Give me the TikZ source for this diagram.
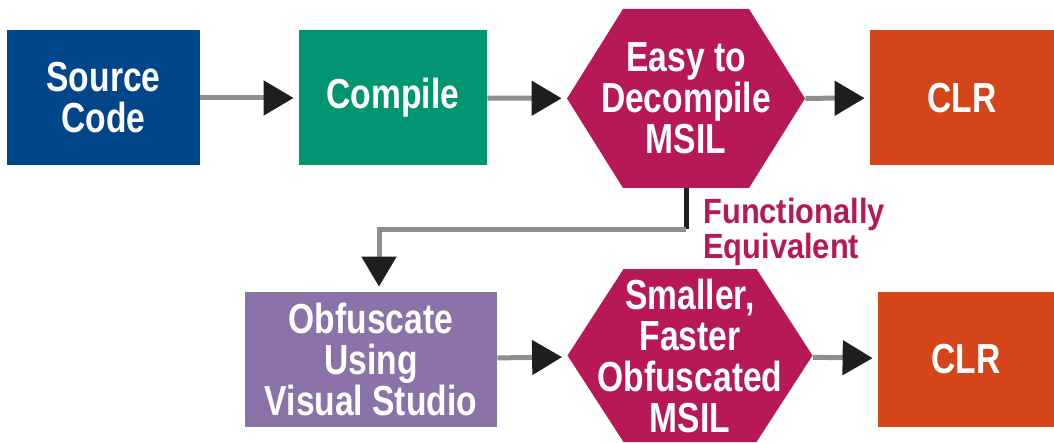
\documentclass[tikz,border=0pt]{standalone}
\usepackage{fontspec}
\usepackage{tikz}
\usetikzlibrary{arrows.meta}

\newfontfamily\boxfont{Liberation Sans}[FakeStretch=0.8]
\newfontfamily\notefont{Liberation Sans}[FakeStretch=0.88]

\definecolor{srcblue}{HTML}{01458A}
\definecolor{compgreen}{HTML}{019572}
\definecolor{msilred}{HTML}{B71858}
\definecolor{clrorange}{HTML}{D4451A}
\definecolor{obfpurple}{HTML}{8B72A8}
\definecolor{linegray}{HTML}{8E8E8E}
\definecolor{tipblack}{HTML}{1E1E1E}

\tikzset{
  block/.style={
    rectangle,
    fill=#1,
    text=white,
    align=center,
    inner sep=0pt,
    minimum height=67.5pt,
    font=\boxfont\bfseries\fontsize{21}{20.5}\selectfont},
  hexblock/.style={
    rectangle,
    text=white,
    align=center,
    inner sep=0pt,
    path picture={
      \fill[msilred] (path picture bounding box.west)
        -- ([xshift=28pt]path picture bounding box.north west)
        -- ([xshift=-28pt]path picture bounding box.north east)
        -- (path picture bounding box.east)
        -- ([xshift=-28pt]path picture bounding box.south east)
        -- ([xshift=28pt]path picture bounding box.south west)
        -- cycle;},
    font=\boxfont\bfseries\fontsize{21}{20.5}\selectfont},
  link/.style={
    draw=linegray,
    line width=2.5pt,
    shorten >=2.5pt,
    -{Triangle[length=15pt,width=17pt,color=tipblack]}},
}

\begin{document}
\begin{tikzpicture}[x=0.5pt,y=-0.5pt]
\useasboundingbox (0,0) rectangle (1054,443);

% top row
\node[block=srcblue, minimum width=96.5pt] (src) at (103.5,98) {Source\\Code};
\node[block=compgreen, minimum width=94pt] (compile) at (393,98) {Compile};
\node[hexblock, minimum width=119pt, minimum height=89.5pt] (easy) at (686,98.5)
  {Easy to\\Decompile\\MSIL};
\node[block=clrorange, minimum width=92pt] (clr) at (962,98) {CLR};

% bottom row
\node[block=obfpurple, minimum width=126pt] (obf) at (371,359.5)
  {Obfuscate\\Using\\Visual Studio};
\node[hexblock, minimum width=122.5pt, minimum height=86.5pt] (small) at (690,355.5)
  {Smaller,\\Faster\\Obfuscated\\MSIL};
\node[block=clrorange, minimum width=88pt] (clrb) at (966,359.5) {CLR};

\path[link] (src) -- (compile);
\path[link] (compile) -- (easy);
\path[link] (easy) -- (clr);
\path[link] (obf) -- (small);
\path[link] (small) -- (clrb);

\path (easy.south) ++(0,41) coordinate (bend);
\draw[tipblack, line width=2.5pt] (easy.south) -- (bend);
\path[link] (bend) -| ([xshift=4]obf.north);

\node[
  anchor=north west,
  inner sep=0pt,
  align=left,
  text=msilred,
  font=\notefont\bfseries\fontsize{17.5}{16}\selectfont] (equiv) at (703,198)
  {Functionally\\Equivalent};
\end{tikzpicture}
\end{document}
